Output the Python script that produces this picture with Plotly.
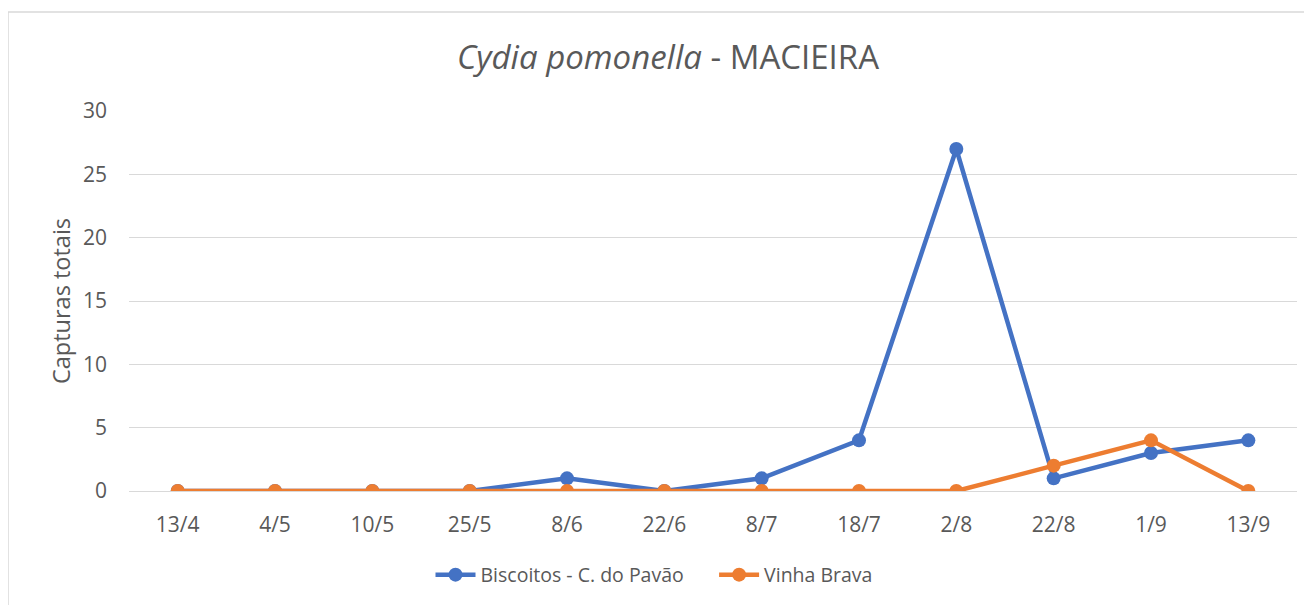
import plotly.graph_objects as go

categories = ["13/4", "4/5", "10/5", "25/5", "8/6", "22/6", "8/7", "18/7", "2/8", "22/8", "1/9", "13/9"]
biscoitos = [0, 0, 0, 0, 1, 0, 1, 4, 27, 1, 3, 4]
vinha_brava = [0, 0, 0, 0, 0, 0, 0, 0, 0, 2, 4, 0]
y_ticks = [0, 5, 10, 15, 20, 25, 30]

FONT = "Open Sans"
GREY = "#595959"

# page is offset by the 8px body margin; plot area on page: x 129..1297, y 111..491
OFF = 8
L, T = 129 - OFF, 111 - OFF
PW, PH = 1168, 380
W, H = 1312, 605

NB = "\u00a0"

fig = go.Figure()
fig.add_trace(go.Scatter(
    x=categories, y=biscoitos, mode="lines+markers", name="Biscoitos - C. do Pavão" + NB * 5,
    line=dict(color="#4472C4", width=4.5), marker=dict(size=14, color="#4472C4"),
))
fig.add_trace(go.Scatter(
    x=categories, y=vinha_brava, mode="lines+markers", name="Vinha Brava",
    line=dict(color="#ED7D31", width=4.5), marker=dict(size=14, color="#ED7D31"),
))

fig.update_layout(
    width=W, height=H,
    paper_bgcolor="white", plot_bgcolor="white",
    margin=dict(l=L, r=W - L - PW, t=T, b=H - T - PH),
    font=dict(family=FONT, color=GREY, size=21),
    title=dict(
        text="<i>Cydia pomonella</i> - MACIEIRA",
        x=(668 - OFF) / W, xanchor="center", y=1 - (57 - OFF) / H, yanchor="middle",
        font=dict(family=FONT, size=33, color=GREY),
    ),
    showlegend=True,
    legend=dict(
        orientation="h", x=(654 - 129) / PW, xanchor="center", y=-(575 - 491) / PH, yanchor="middle",
        font=dict(family=FONT, size=19.5, color=GREY),
        itemwidth=40,
    ),
    xaxis=dict(
        type="category", range=[-0.5, 11.5], showgrid=False, showline=False,
        zeroline=False, ticks="", tickfont=dict(size=21, color=GREY),
        ticklabelstandoff=19,
    ),
    yaxis=dict(
        range=[0, 30], tickvals=y_ticks, showgrid=True, gridcolor="#D9D9D9", gridwidth=1.3,
        zeroline=True, zerolinecolor="#D9D9D9", zerolinewidth=1.3, showline=False,
        tickfont=dict(size=21, color=GREY), ticklabelstandoff=21,
        title=dict(text="Capturas totais", font=dict(size=23.5, color=GREY), standoff=5),
    ),
    shapes=[dict(
        type="rect", xref="paper", yref="paper",
        x0=(8 - 129) / PW, x1=(1330 - 129) / PW,
        y0=(491 - 640) / PH, y1=(491 - 12) / PH,
        line=dict(color="#D9D9D9", width=1.5), fillcolor="rgba(0,0,0,0)", layer="below",
    )],
)

fig.write_html("out.html")
